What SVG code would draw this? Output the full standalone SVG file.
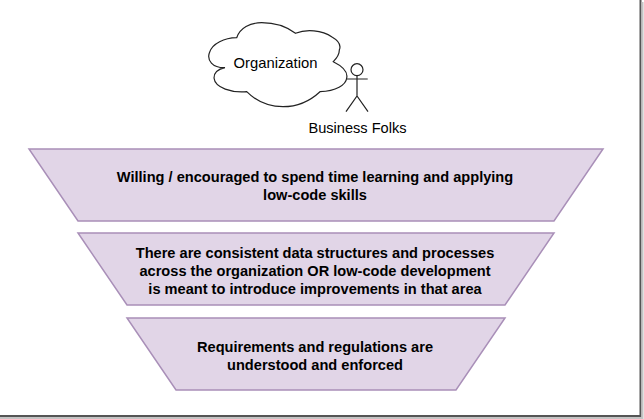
<svg xmlns="http://www.w3.org/2000/svg" width="644" height="419" viewBox="0 0 644 419">
<style>
text{font-family:"Liberation Sans",Arial,sans-serif;font-size:14.600px;fill:#000;text-anchor:middle}
.t{fill:#e1d5e7;stroke:#a98fb8;stroke-width:1.5}
.b{font-weight:bold}
.s{fill:none;stroke:#222;stroke-width:1.2}
</style>
<rect width="644" height="419" fill="#fff"/>
<g id="frame"><path d="M640.500 0V416H0" fill="none" stroke="#555" stroke-width="2"/><path d="M642.500 2V418H0" fill="none" stroke="#c4c4c4" stroke-width="2"/></g>
<g id="cloud"><path class="s" d="M225 67.700C212 68 207 60 209.300 53C212 43 225 38 236.700 37.700C240 28 250 22.700 261.700 22.700C275 22.700 287 27 295.500 33.300C306 29 322 30 332 37C339 41 341 46 339.300 50C339.500 55 336 59 333.300 61.700C342 66 348 72 346.700 78C346 85 336 91 320 91.700C310 101 297 106.700 283 106.700C268 106.700 255 100 246.700 91.700C232 93 215 88 214 78C214 72 219 69 225 67.700Z"/><text x="275.500" y="68" style="font-size:14.800px">Organization</text></g>
<g id="actor"><circle class="s" cx="357" cy="69.700" r="6"/><path class="s" d="M357 75.700V96M346.700 79H367.700M346 111.700L357 96L368 111.700"/><text x="357.500" y="133">Business Folks</text></g>
<g id="level1"><polygon class="t" points="29,149 603,149 554,221 78,221"/><text class="b" x="315" y="181.500">Willing / encouraged to spend time learning and applying</text><text class="b" x="315" y="199.500">low-code skills</text></g>
<g id="level2"><polygon class="t" points="78,233 554,233 505,305 127,305"/><text class="b" x="315" y="257.500">There are consistent data structures and processes</text><text class="b" x="315" y="275.500">across the organization OR low-code development</text><text class="b" x="315" y="293.500">is meant to introduce improvements in that area</text></g>
<g id="level3"><polygon class="t" points="127,318 505,318 456,390 176,390"/><text class="b" x="315" y="351.500">Requirements and regulations are</text><text class="b" x="315" y="369.500">understood and enforced</text></g>
<g id="connectors"/>
</svg>
